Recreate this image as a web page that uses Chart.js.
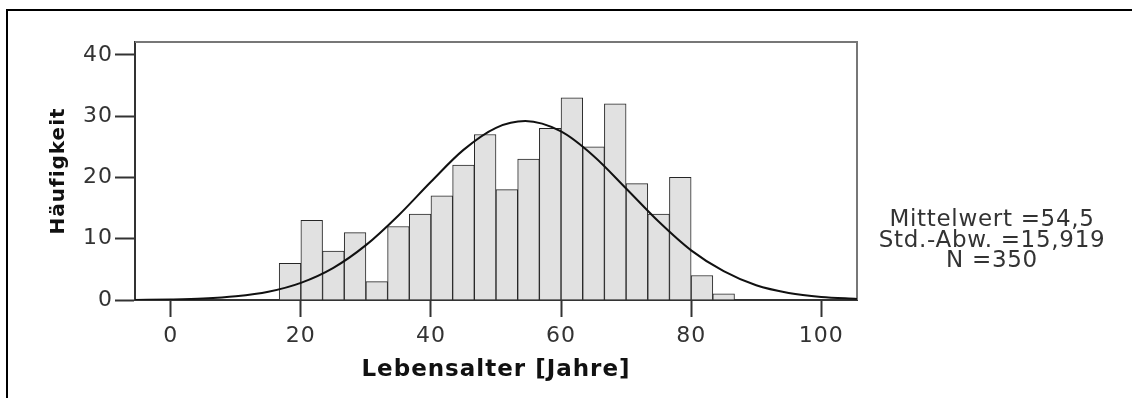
<!DOCTYPE html>
<html>
<head>
<meta charset="utf-8">
<script src="https://cdn.jsdelivr.net/npm/chart.js@4"></script>
<style>
  html, body { margin: 0; padding: 0; background: #fff; overflow: hidden; }
  #wrap { position: relative; width: 1132px; height: 398px; }
  #frame { position: absolute; left: 6px; top: 9px; width: 2000px; height: 2000px; border: 2px solid #000; }
  #stats {
    position: absolute; left: 862px; top: 208px; width: 260px;
    text-align: center; font-family: "DejaVu Sans", sans-serif; font-size: 23px;
    line-height: 20.5px; color: #333; letter-spacing: 0.7px;
  }
  canvas { position: absolute; left: 0; top: 0; }
</style>
</head>
<body>
<div id="wrap">
  <div id="frame"></div>
  <canvas id="chart" width="1132" height="398"></canvas>
  <div id="stats">Mittelwert =54,5<br>Std.-Abw. =15,919<br>N =350</div>
</div>
<script>
// Histogram bins (bin centers, width 3.33 years) and counts
const binCenters = [18.333, 21.667, 25, 28.333, 31.667, 35, 38.333, 41.667, 45, 48.333, 51.667,
  55, 58.333, 61.667, 65, 68.333, 71.667, 75, 78.333, 81.667, 85];
const counts = [6, 13, 8, 11, 3, 12, 14, 17, 22, 27, 18, 23, 28, 33, 25, 32, 19, 14, 20, 4, 1];

// Normal curve
const curveX = [-5.5, 0, 5, 10, 15, 20, 25, 30, 35, 40, 45, 50, 54.5, 60, 65, 70, 75, 80, 85, 90, 95, 100, 105.5];
const curveY = [0.02, 0.08, 0.23, 0.6, 1.35, 2.8, 5.25, 8.95, 13.8, 19.3, 24.5, 28.1, 29.2, 27.5, 23.5, 18.2, 12.8, 8.1, 4.7, 2.4, 1.15, 0.5, 0.17];

// Axis ticks
const xTicks = [0, 20, 40, 60, 80, 100];
const yTicks = [0, 10, 20, 30, 40];

const barData = binCenters.map((x, i) => ({ x: x, y: counts[i] }));
const lineData = curveX.map((x, i) => ({ x: x, y: curveY[i] }));

// top and right edge of the plot box, plus slightly wider text
const plotFrame = {
  id: 'plotFrame',
  beforeDraw(chart) {
    chart.ctx.letterSpacing = '1px';
  },
  beforeDatasetsDraw(chart) {
    const { ctx, chartArea: a } = chart;
    ctx.save();
    ctx.strokeStyle = '#777';
    ctx.lineWidth = 2;
    ctx.beginPath();
    ctx.moveTo(a.left, a.top);
    ctx.lineTo(a.right, a.top);
    ctx.lineTo(a.right, a.bottom);
    ctx.stroke();
    ctx.restore();
  }
};

new Chart(document.getElementById('chart'), {
  type: 'bar',
  data: {
    datasets: [
      {
        type: 'line',
        data: lineData,
        borderColor: '#111',
        borderWidth: 2,
        pointRadius: 0,
        fill: false,
        cubicInterpolationMode: 'monotone',
        order: 0
      },
      {
        type: 'bar',
        data: barData,
        backgroundColor: '#e1e1e1',
        borderColor: '#262626',
        borderWidth: 1,
        barPercentage: 1,
        categoryPercentage: 1,
        grouped: false,
        order: 1
      }
    ]
  },
  options: {
    responsive: false,
    animation: false,
    layout: { padding: { left: 0, top: 42, right: 275, bottom: 0 } },
    plugins: { legend: { display: false }, tooltip: { enabled: false } },
    scales: {
      x: {
        type: 'linear',
        min: -5.5,
        max: 105.5,
        offset: false,
        afterBuildTicks: s => { s.ticks = xTicks.map(v => ({ value: v })); },
        afterFit: s => { s.height = 98; },
        ticks: {
          padding: 6,
          color: '#333',
          font: { family: 'DejaVu Sans', size: 22 },
          maxRotation: 0
        },
        grid: {
          offset: false,
          drawOnChartArea: false,
          drawTicks: true,
          tickLength: 17,
          tickWidth: 2,
          tickColor: '#333'
        },
        border: { display: true, color: '#333', width: 2 },
        title: {
          display: true,
          text: 'Lebensalter [Jahre]',
          color: '#111',
          font: { family: 'DejaVu Sans', size: 23, weight: 'bold' },
          padding: { top: 0, bottom: 14 }
        }
      },
      y: {
        min: 0,
        max: 42.1,
        afterBuildTicks: s => { s.ticks = yTicks.map(v => ({ value: v })); },
        afterFit: s => { s.width = 135; },
        ticks: {
          padding: 2,
          color: '#333',
          font: { family: 'DejaVu Sans', size: 22 }
        },
        grid: {
          drawOnChartArea: false,
          drawTicks: true,
          tickLength: 20,
          tickWidth: 2,
          tickColor: '#333'
        },
        border: { display: true, color: '#333', width: 2 },
        title: {
          display: true,
          text: 'Häufigkeit',
          color: '#111',
          font: { family: 'DejaVu Sans', size: 20, weight: 'bold' },
          padding: { top: 47, bottom: 0 }
        }
      }
    }
  },
  plugins: [plotFrame]
});
</script>
</body>
</html>
